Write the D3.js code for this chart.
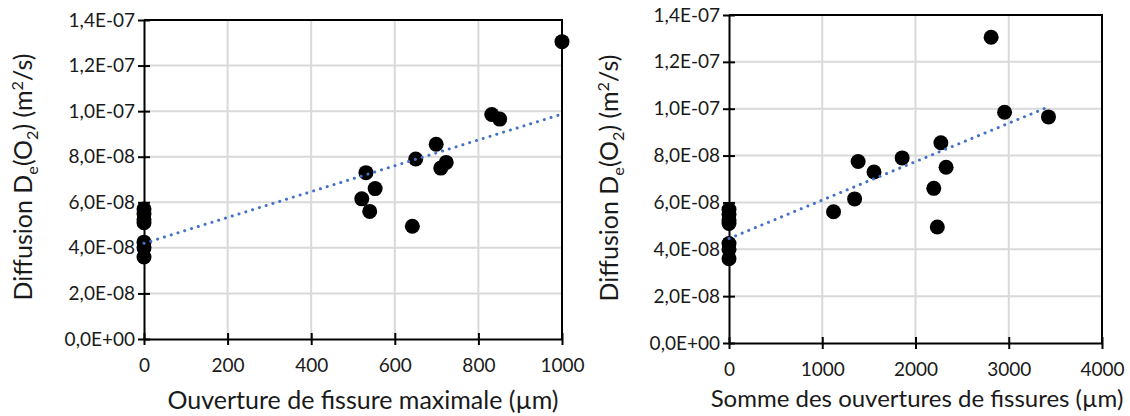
<!DOCTYPE html>
<html>
<head>
<meta charset="utf-8">
<script src="https://cdn.jsdelivr.net/npm/d3@7"></script>
<style>
  html, body { margin: 0; padding: 0; background: #fff; }
  svg { display: block; }
  text { font-family: Lato, "Open Sans", sans-serif; fill: #1a1a1a; }
</style>
</head>
<body>
<svg id="chart" width="1130" height="416"></svg>
<script>
// ---- data ----
const zeroOpeningDiffusion = [5.7e-8, 5.5e-8, 5.25e-8, 5.1e-8, 4.25e-8, 4.0e-8, 3.6e-8];
const diffusion   = [7.3e-8, 6.15e-8, 6.6e-8, 5.6e-8, 4.95e-8, 7.9e-8, 8.55e-8, 7.5e-8, 7.75e-8, 9.85e-8, 9.65e-8, 13.05e-8];
const maxOpening  = [531, 521, 553, 540, 642, 650, 699, 710, 723, 832, 851, 1000];
const sumOpenings = [1555, 1347, 2196, 1121, 2234, 1857, 2272, 2328, 1385, 2955, 3426, 2811];

const trendMaxX = [0, 1000];
const trendMaxY = [4.2e-8, 9.87e-8];
const trendSumX = [0, 3426];
const trendSumY = [4.46e-8, 10.08e-8];

const yTicks = [0, 2e-8, 4e-8, 6e-8, 8e-8, 1.0e-7, 1.2e-7, 1.4e-7];
const xTicksMax = [0, 200, 400, 600, 800, 1000];
const xTicksSum = [0, 1000, 2000, 3000, 4000];

const titleMax = "Ouverture de fissure maximale (µm)";
const titleSum = "Somme des ouvertures de fissures (µm)";

// ---- helpers ----
function sci(v) {
  const [m, e] = v.toExponential(1).split("e");
  const ei = parseInt(e, 10);
  const sign = ei < 0 ? "-" : "+";
  const ab = String(Math.abs(ei)).padStart(2, "0");
  return m.replace(".", ",") + "E" + sign + ab;
}

const svg = d3.select("#chart");

function panel(cfg) {
  const x = d3.scaleLinear().domain(cfg.xDomain).range([cfg.left, cfg.right]);
  const y = d3.scaleLinear().domain([0, 1.4e-7]).range([cfg.bottom, cfg.top]);
  const g = svg.append("g");

  // gridlines
  g.append("g").selectAll("line.v").data(cfg.xTicks.slice(1, -1)).join("line")
    .attr("x1", d => x(d)).attr("x2", d => x(d))
    .attr("y1", cfg.top).attr("y2", cfg.bottom)
    .attr("stroke", "#d9d9d9").attr("stroke-width", 2);
  g.append("g").selectAll("line.h").data(yTicks.slice(1, -1)).join("line")
    .attr("x1", cfg.left).attr("x2", cfg.right)
    .attr("y1", d => y(d)).attr("y2", d => y(d))
    .attr("stroke", "#d9d9d9").attr("stroke-width", 2);

  // frame (top & right)
  g.append("path")
    .attr("d", `M${cfg.left},${cfg.top}H${cfg.right}V${cfg.bottom}`)
    .attr("fill", "none").attr("stroke", "#000").attr("stroke-width", 2);

  // y axis
  const ya = d3.axisLeft(y).tickValues(yTicks).tickFormat(sci).tickSizeInner(6).tickSizeOuter(0).tickPadding(2);
  const yg = g.append("g").attr("transform", `translate(${cfg.left},0)`).call(ya);
  yg.select(".domain").attr("stroke", "#000").attr("stroke-width", 2);
  yg.selectAll(".tick line").attr("x2", -6).attr("x1", 6).attr("stroke", "#000").attr("stroke-width", 2);
  yg.selectAll(".tick text").attr("x", -9).style("font-size", cfg.tickFont + "px")
    .style("font-family", "Lato, sans-serif").attr("fill", "#1a1a1a");

  // x axis
  const xa = d3.axisBottom(x).tickValues(cfg.xTicks).tickFormat(d3.format("d")).tickSizeOuter(0);
  const xg = g.append("g").attr("transform", `translate(0,${cfg.bottom})`).call(xa);
  xg.select(".domain").attr("stroke", "#000").attr("stroke-width", 2);
  xg.selectAll(".tick line").attr("y1", -6).attr("y2", 6).attr("stroke", "#000").attr("stroke-width", 2);
  xg.selectAll(".tick text").attr("y", 20).style("font-size", cfg.tickFont + "px")
    .style("font-family", "Lato, sans-serif").attr("fill", "#1a1a1a");

  // points
  const pts = cfg.xs.map((v, i) => ({ x: v, y: diffusion[i] }))
    .concat(zeroOpeningDiffusion.map(v => ({ x: 0, y: v })));
  g.append("g").selectAll("circle").data(pts).join("circle")
    .attr("cx", d => x(d.x)).attr("cy", d => y(d.y)).attr("r", 7.5)
    .attr("fill", "#000");

  // trend line
  const line = d3.line().x(d => x(d[0])).y(d => y(d[1]));
  g.append("path")
    .datum(cfg.trendX.map((v, i) => [v, cfg.trendY[i]]))
    .attr("d", line)
    .attr("fill", "none").attr("stroke", "#4472c4").attr("stroke-width", 3)
    .attr("stroke-linecap", "round").attr("stroke-dasharray", "0.1 7");

  // x title
  g.append("text").attr("x", cfg.xTitleX).attr("y", cfg.xTitleY)
    .attr("text-anchor", "middle").style("font-size", cfg.xTitleFont + "px")
    .text(cfg.xTitle);

  // y title
  const yt = g.append("text")
    .attr("transform", `translate(${cfg.yTitleX},${cfg.yTitleY}) rotate(-90)`)
    .attr("text-anchor", "middle").style("font-size", cfg.titleFont + "px");
  const small = (cfg.titleFont * 0.65) + "px";
  yt.append("tspan").text("Diffusion D");
  yt.append("tspan").attr("dy", 6).style("font-size", small).text("e");
  yt.append("tspan").attr("dy", -6).text("(O");
  yt.append("tspan").attr("dy", 6).style("font-size", small).text("2");
  yt.append("tspan").attr("dy", -6).text(") (m");
  yt.append("tspan").attr("dy", -9).style("font-size", small).text("2");
  yt.append("tspan").attr("dy", 9).text("/s)");
}

panel({
  xDomain: [0, 1000], left: 144, right: 562, top: 20, bottom: 339,
  xTicks: xTicksMax, xs: maxOpening, trendX: trendMaxX, trendY: trendMaxY,
  tickFont: 19, titleFont: 25, xTitleFont: 25,
  xTitle: titleMax, xTitleX: 363, xTitleY: 409,
  yTitleX: 32, yTitleY: 177
});

panel({
  xDomain: [0, 4000], left: 729, right: 1102, top: 15, bottom: 343,
  xTicks: xTicksSum, xs: sumOpenings, trendX: trendSumX, trendY: trendSumY,
  tickFont: 19, titleFont: 25, xTitleFont: 24,
  xTitle: titleSum, xTitleX: 917, xTitleY: 407,
  yTitleX: 618, yTitleY: 178
});
</script>
</body>
</html>
